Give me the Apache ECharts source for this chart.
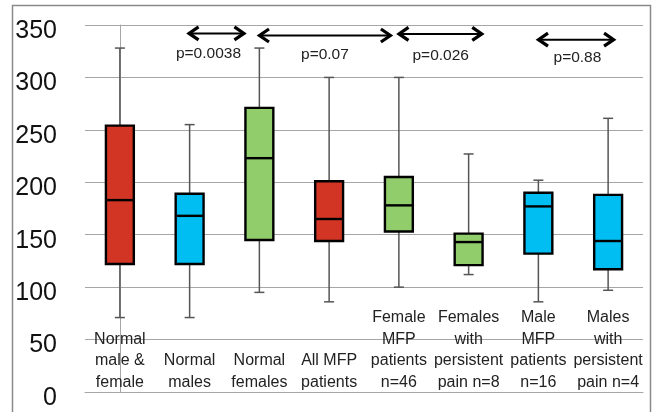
<!DOCTYPE html>
<html><head><meta charset="utf-8">
<script src="https://cdn.jsdelivr.net/npm/echarts@6/dist/echarts.min.js"></script>
<style>html,body{margin:0;padding:0;background:#fff}#c{width:652px;height:412px}</style>
</head><body><div id="c"></div>
<script>
const categories = ['Normal\nmale &\nfemale', 'Normal\nmales', 'Normal\nfemales', 'All MFP\npatients',
  'Female\nMFP\npatients\nn=46', 'Females\nwith\npersistent\npain n=8', 'Male\nMFP\npatients\nn=16', 'Males\nwith\npersistent\npain n=4'];
const whiskerLow  = [71, 71, 95, 86, 100, 112, 86, 97];
const q1          = [122, 122, 145, 144, 153, 121, 132, 117];
const median      = [183, 168, 223, 165, 178, 143, 177, 144];
const q3          = [254, 189, 271, 201, 205, 151, 190, 188];
const whiskerHigh = [328, 255, 328, 300, 300, 227, 202, 261];
const groups      = ['all', 'male', 'female', 'all', 'female', 'female', 'male', 'male'];

const pLabels   = ['p=0.0038', 'p=0.07', 'p=0.026', 'p=0.88'];
const arrowFrom = [0.97, 1.98, 3.98, 5.98];
const arrowTo   = [1.80, 3.90, 5.21, 7.10];
const arrowY    = [342, 340, 341.5, 336];
const labelX    = [1.27, 2.94, 4.60, 6.56];
const labelY    = [322.5, 322, 320.5, 318.5];

const yTicks = [0, 50, 100, 150, 200, 250, 300, 350];

const groupColor = { all: '#D33524', male: '#00BEF2', female: '#92CD6C' };
const FONT = '"Liberation Sans", Arial, sans-serif';

const boxData = categories.map((c, i) => [i, whiskerLow[i], q1[i], median[i], q3[i], whiskerHigh[i]]);
const arrowData = pLabels.map((p, i) => [arrowFrom[i], arrowTo[i], arrowY[i], labelX[i], labelY[i], i]);

const chart = echarts.init(document.getElementById('c'), null, { renderer: 'canvas' });
chart.setOption({
  animation: false,
  backgroundColor: '#fff',
  graphic: [{
    type: 'rect', silent: true, z: -1,
    shape: { x: 12.5, y: 5.5, width: 638, height: 430 },
    style: { fill: 'none', stroke: '#8a8a8a', lineWidth: 1.5 }
  }],
  grid: { left: 85, right: 9, top: 25, bottom: 20 },
  xAxis: [{
    type: 'category', data: categories,
    axisLine: { show: true, lineStyle: { color: '#a6a6a6', width: 1 } },
    axisTick: { show: false },
    axisLabel: {
      interval: 0, margin: 1, verticalAlign: 'bottom',
      fontFamily: FONT, fontSize: 16, lineHeight: 21.5, color: '#222'
    },
    splitLine: { show: false }
  }, {
    type: 'value', min: -0.5, max: 7.5, show: false
  }],
  yAxis: {
    type: 'value', min: yTicks[0], max: yTicks[yTicks.length - 1], interval: 50,
    axisLine: { show: true, lineStyle: { color: '#a6a6a6', width: 1 } },
    axisTick: { show: true, length: 10, lineStyle: { color: '#a6a6a6' } },
    axisLabel: { margin: 28, fontFamily: FONT, fontSize: 25, color: '#111',
      verticalAlign: 'top', lineHeight: 26, padding: [-7, 0, 0, 0] },
    splitLine: { show: true, lineStyle: { color: '#a6a6a6', width: 1 } }
  },
  series: [{
    type: 'custom',
    xAxisIndex: 0,
    data: boxData,
    encode: { x: 0, y: [1, 2, 3, 4, 5] },
    renderItem: function (params, api) {
      const i = api.value(0);
      const x = api.coord([i, api.value(3)])[0];
      const yLow = api.coord([i, api.value(1)])[1];
      const yQ1 = api.coord([i, api.value(2)])[1];
      const yMed = api.coord([i, api.value(3)])[1];
      const yQ3 = api.coord([i, api.value(4)])[1];
      const yHigh = api.coord([i, api.value(5)])[1];
      const bw = api.size([1, 0])[0] * 0.4;
      const ws = { stroke: '#555', lineWidth: 1.5 };
      const fill = groupColor[groups[i]];
      return {
        type: 'group',
        children: [
          { type: 'line', shape: { x1: x, y1: yQ3, x2: x, y2: yHigh }, style: ws },
          { type: 'line', shape: { x1: x - 5, y1: yHigh, x2: x + 5, y2: yHigh }, style: ws },
          { type: 'line', shape: { x1: x, y1: yQ1, x2: x, y2: yLow }, style: ws },
          { type: 'line', shape: { x1: x - 5, y1: yLow, x2: x + 5, y2: yLow }, style: ws },
          { type: 'rect', shape: { x: x - bw / 2, y: yQ3, width: bw, height: yQ1 - yQ3 },
            style: { fill: fill, stroke: '#000', lineWidth: 2.4 } },
          { type: 'line', shape: { x1: x - bw / 2, y1: yMed, x2: x + bw / 2, y2: yMed },
            style: { stroke: '#000', lineWidth: 2.4 } }
        ]
      };
    }
  }, {
    type: 'custom',
    xAxisIndex: 1,
    data: arrowData,
    encode: { x: [0, 1, 3], y: [2, 4] },
    clip: false,
    renderItem: function (params, api) {
      const a = api.coord([api.value(0), api.value(2)]);
      const b = api.coord([api.value(1), api.value(2)]);
      const t = api.coord([api.value(3), api.value(4)]);
      const idx = api.value(5);
      const st = { stroke: '#000', lineWidth: 3.2, fill: 'none', lineJoin: 'miter' };
      return {
        type: 'group',
        children: [
          { type: 'line', shape: { x1: a[0] + 1, y1: a[1], x2: b[0] - 1, y2: b[1] }, style: { stroke: '#000', lineWidth: 2 } },
          { type: 'polyline', shape: { points: [[a[0] + 11, a[1] - 6.5], [a[0] + 1.5, a[1]], [a[0] + 11, a[1] + 6.5]] }, style: st },
          { type: 'polyline', shape: { points: [[b[0] - 11, b[1] - 6.5], [b[0] - 1.5, b[1]], [b[0] - 11, b[1] + 6.5]] }, style: st },
          { type: 'text', x: t[0], y: t[1],
            style: { text: pLabels[idx], align: 'center', verticalAlign: 'middle', fontFamily: FONT, fontSize: 15.5, fill: '#222' } }
        ]
      };
    }
  }]
});
</script>
</body></html>
